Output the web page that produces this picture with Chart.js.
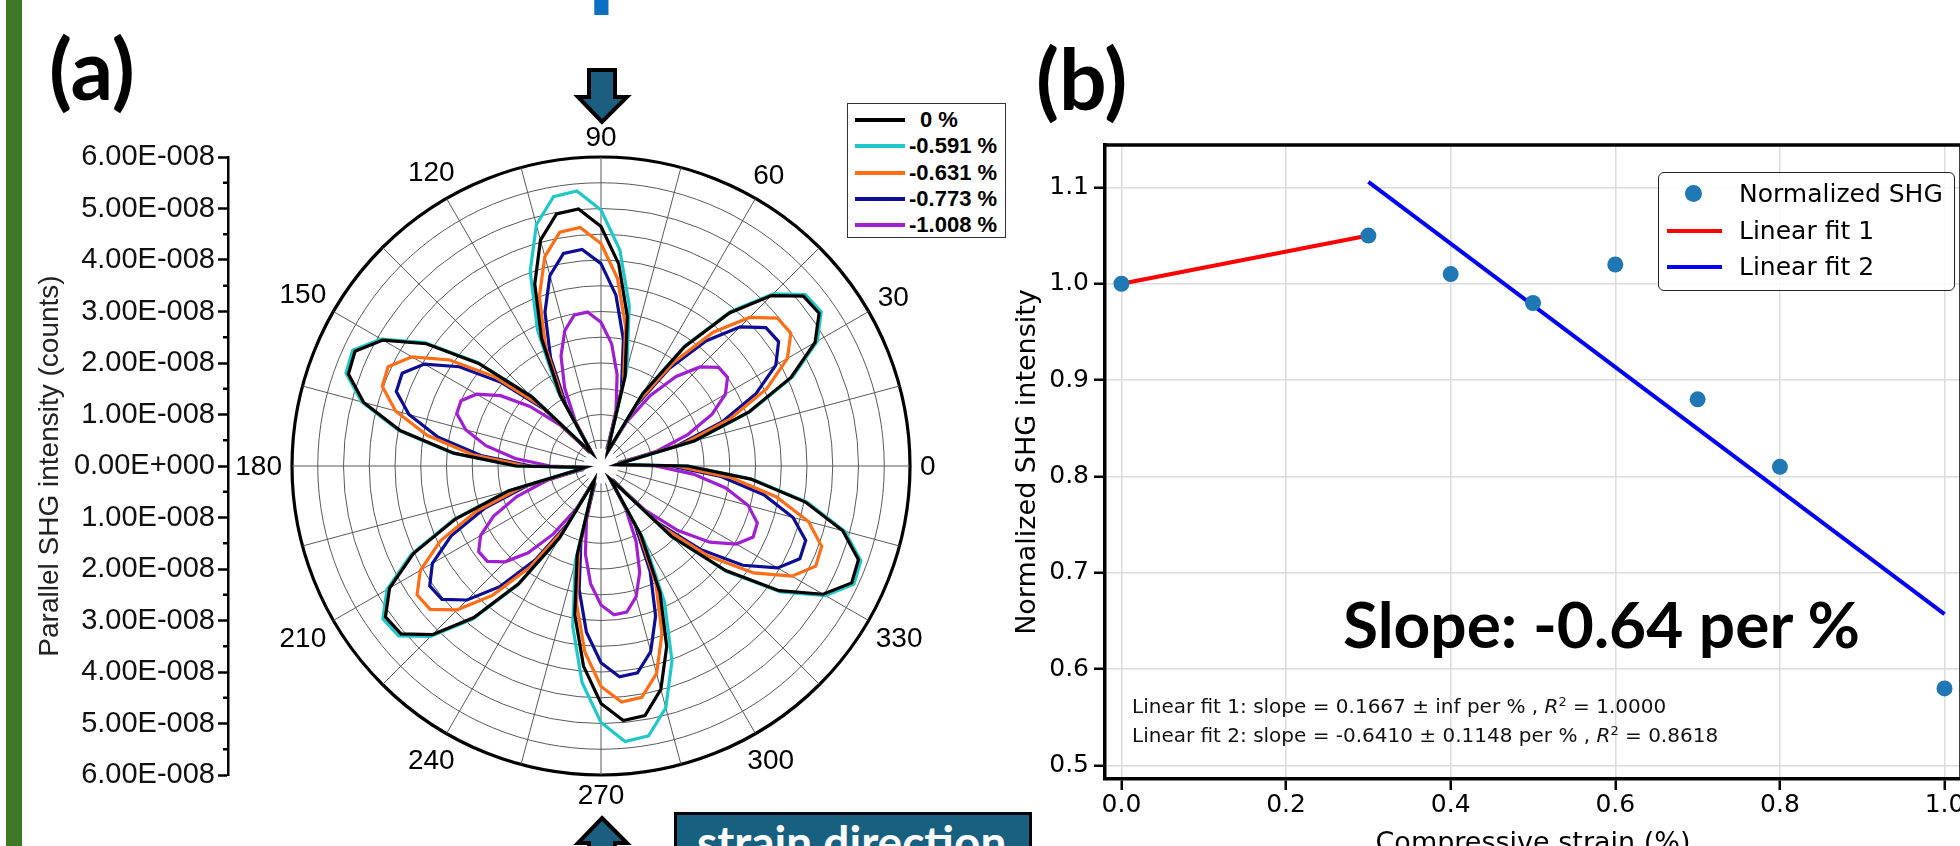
<!DOCTYPE html>
<html>
<head>
<meta charset="utf-8">
<title>SHG polar response and strain dependence</title>
<script src="https://cdn.jsdelivr.net/npm/chart.js@4.4.1/dist/chart.umd.min.js"></script>
<style>
  html, body { margin: 0; padding: 0; width: 1960px; height: 846px; overflow: hidden; background: #fff; }
  .abs { position: absolute; }
  #greenBar { left: 6px; top: 0; width: 16px; height: 846px; background: #3c7a26; z-index: 5; }
  #pageTitle { left: 461px; top: -106px; font-family: Lato, sans-serif; font-weight: 700; font-size: 115px; line-height: 1; color: #0a70c2; white-space: nowrap; }
  .panelTag { font-family: Lato, "Open Sans", sans-serif; font-weight: 700; font-size: 84px; line-height: 1; color: #000; }
  #axisWrap { left: 0; top: 120px; width: 240px; height: 700px; }
  #polarWrap { left: 211px; top: 76px; width: 780px; height: 780px; }
  #shgWrap { left: 1009px; top: 120px; width: 966px; height: 742px; }
  #legendA { left: 847px; top: 103px; width: 159px; height: 135px; border: 1.5px solid #333; background: #fff; box-sizing: border-box; }
  #legendA .row { position: absolute; left: 0; height: 26px; width: 100%; }
  #legendA .swatch { position: absolute; left: 7px; top: 11px; width: 50px; height: 4px; }
  #legendA .txt { position: absolute; left: 61px; top: 0; font: 700 22px "Liberation Sans", Arial, sans-serif; line-height: 26px; color: #000; white-space: nowrap; }
  #legendB { left: 1658px; top: 172px; width: 297px; height: 119px; border: 1.5px solid #222; border-radius: 6px; background: rgba(255,255,255,0.85); box-sizing: border-box; }
  #legendB .row { position: absolute; left: 0; width: 100%; height: 36px; }
  #legendB .txt { position: absolute; left: 80px; top: 0; font: 25px "DejaVu Sans", sans-serif; line-height: 36px; color: #000; white-space: nowrap; }
  .fitNote { font: 20px "DejaVu Sans", sans-serif; color: #111; white-space: nowrap; line-height: 1; }
  .fitNote sup { font-size: 13px; vertical-align: 7px; line-height: 0; }
  #slopeNote { left: 1343px; top: 592px; font-family: Lato, sans-serif; font-weight: 700; font-size: 64px; line-height: 1; color: #000; white-space: nowrap; }
  #strainBox { left: 674px; top: 812px; width: 358px; height: 70px; background: #17607f; border: 3px solid #000; box-sizing: border-box;
               color: #fff; font-family: Lato, sans-serif; font-weight: 700; font-size: 46px; line-height: 1; padding: 4px 0 0 20px; white-space: nowrap; }
</style>
</head>
<body>
<div id="greenBar" class="abs"></div>
<div id="pageTitle" class="abs">Experimental Results</div>
<div class="abs panelTag" style="left:49px; top:26px;">(a)</div>
<div class="abs panelTag" style="left:1036px; top:36px;">(b)</div>

<div id="axisWrap" class="abs"><canvas id="axisCanvas"></canvas></div>
<div id="polarWrap" class="abs"><canvas id="polarCanvas"></canvas></div>
<div id="legendA" class="abs"></div>

<svg class="abs" style="left:570px; top:62px;" width="66" height="66" viewBox="0 0 66 66">
  <polygon points="19,8 45,8 45,35 57,35 32,60 8,35 19,35" fill="#1b5e7f" stroke="#000" stroke-width="4" stroke-linejoin="miter"/>
</svg>
<svg class="abs" style="left:570px; top:810px;" width="66" height="66" viewBox="0 0 66 66">
  <polygon points="32,8 57,33 45,33 45,64 19,64 19,33 8,33" fill="#1b5e7f" stroke="#000" stroke-width="4" stroke-linejoin="miter"/>
</svg>
<div id="strainBox" class="abs">strain direction</div>

<div id="shgWrap" class="abs"><canvas id="shgCanvas"></canvas></div>
<div id="legendB" class="abs"></div>
<div id="slopeNote" class="abs">Slope: -0.64 per %</div>
<div id="fitNote1" class="abs fitNote" style="left:1132px; top:696px;"></div>
<div id="fitNote2" class="abs fitNote" style="left:1132px; top:725px;"></div>

<script>
// ---------- (a) polar SHG pattern, intensity in units of 1e-8 counts ----------
// polarizer angle (deg) for each sample, listed clockwise starting from 90
const angleDeg = [90,85,80,75,70,65,60,55,50,45,40,35,30,25,20,15,10,5,0,
  355,350,345,340,335,330,325,320,315,310,305,300,295,290,285,280,275,270,
  265,260,255,250,245,240,235,230,225,220,215,210,205,200,195,190,185,180,
  175,170,165,160,155,150,145,140,135,130,125,120,115,110,105,100,95];

const strainLabels = ['0 %', '-0.591 %', '-0.631 %', '-0.773 %', '-1.008 %'];
const strainColors = ['#000000', '#1fc8c8', '#ff6d14', '#0c0c94', '#a11fd2'];

const shg0 = [4.65,3.94,2.95,1.81,0.48,
  0.32,1.62,2.82,3.88,4.68,5.13,5.17,4.80,4.07,3.05,1.87,0.48,
  0.32,1.68,2.92,4.03,4.86,5.32,5.37,4.98,4.22,3.16,1.93,0.48,
  0.32,1.56,2.71,3.73,4.49,4.92,4.96,4.61,3.90,2.93,1.79,0.48,
  0.32,1.61,2.79,3.84,4.63,5.07,5.11,4.74,4.02,3.01,1.85,0.48,
  0.32,1.65,2.87,3.96,4.77,5.22,5.27,4.89,4.14,3.10,1.90,0.48,
  0.32,1.58,2.73,3.76,4.54,4.97,5.01];
const shg0591 = [4.97,4.21,3.16,1.93,0.49,
  0.33,1.64,2.85,3.92,4.73,5.18,5.22,4.85,4.11,3.08,1.88,0.49,
  0.33,1.70,2.95,4.07,4.90,5.37,5.42,5.03,4.26,3.19,1.95,0.49,
  0.33,1.68,2.92,4.03,4.86,5.32,5.37,4.98,4.22,3.16,1.93,0.49,
  0.33,1.62,2.82,3.88,4.68,5.13,5.17,4.80,4.07,3.05,1.87,0.49,
  0.33,1.66,2.90,3.99,4.81,5.27,5.32,4.93,4.18,3.13,1.92,0.49,
  0.33,1.68,2.92,4.02,4.85,5.31,5.36];
const shg0631 = [4.32,3.66,2.75,1.69,0.45,
  0.31,1.43,2.46,3.39,4.08,4.47,4.50,4.18,3.55,2.66,1.64,0.45,
  0.31,1.46,2.52,3.46,4.17,4.56,4.60,4.28,3.62,2.72,1.67,0.45,
  0.31,1.46,2.52,3.46,4.17,4.56,4.60,4.28,3.62,2.72,1.67,0.45,
  0.31,1.39,2.39,3.28,3.95,4.33,4.36,4.05,3.44,2.58,1.59,0.45,
  0.31,1.45,2.50,3.43,4.13,4.52,4.56,4.24,3.59,2.70,1.66,0.45,
  0.31,1.47,2.54,3.50,4.21,4.61,4.65];
const shg0773 = [3.93,3.33,2.50,1.54,0.43,
  0.30,1.34,2.31,3.17,3.82,4.18,4.21,3.92,3.32,2.50,1.54,0.43,
  0.30,1.36,2.34,3.21,3.86,4.23,4.26,3.96,3.36,2.52,1.56,0.43,
  0.30,1.32,2.26,3.10,3.73,4.08,4.11,3.82,3.24,2.44,1.51,0.43,
  0.30,1.30,2.23,3.06,3.68,4.03,4.06,3.78,3.21,2.41,1.49,0.43,
  0.30,1.36,2.34,3.21,3.86,4.23,4.26,3.96,3.36,2.52,1.56,0.43,
  0.30,1.35,2.32,3.18,3.83,4.19,4.22];
const shg1008 = [2.79,2.38,1.80,1.13,0.40,
  0.30,0.99,1.67,2.27,2.72,2.98,3.00,2.79,2.38,1.80,1.13,0.40,
  0.30,1.06,1.80,2.46,2.96,3.23,3.26,3.03,2.58,1.95,1.21,0.40,
  0.30,0.96,1.61,2.20,2.63,2.88,2.90,2.70,2.30,1.74,1.09,0.40,
  0.30,0.96,1.61,2.20,2.63,2.88,2.90,2.70,2.30,1.74,1.09,0.40,
  0.30,0.99,1.67,2.27,2.72,2.98,3.00,2.79,2.38,1.80,1.13,0.40,
  0.30,0.99,1.67,2.27,2.72,2.98,3.00];
const strainSeries = [shg0, shg0591, shg0631, shg0773, shg1008];

// radius axis: +/- 6e-8 counts, major step 1e-8, minor step 0.5e-8
const radiusMax = 6;
const radiusStep = 0.5;
const centerHole = 0.34;
const intensityExponent = '-008';

// ---------- (b) normalized SHG vs compressive strain ----------
const strainPct = [0.0, 0.3, 0.4, 0.5, 0.6, 0.7, 0.8, 1.0];
const shgNorm   = [1.00, 1.05, 1.01, 0.98, 1.02, 0.88, 0.81, 0.58];
const fitNames = ['Linear fit 1', 'Linear fit 2'];
const fitColors = ['#ff0000', '#0000ff'];
const fitRangeX = [[0.0, 0.3], [0.3, 1.0]];
const fitIntercept = [1.0000, 1.2981];
const fitSlope = [0.1667, -0.6410];
const fitSlopeErr = ['inf', '0.1148'];
const fitR2 = ['1.0000', '0.8618'];
const xTickStep = 0.2;
const yTickStep = 0.1;

Chart.defaults.devicePixelRatio = 1;

// ---------- radius axis drawn to the left of the polar plot ----------
const minorTickPlugin = {
  id: 'minorTicks',
  afterDraw(chart) {
    const s = chart.scales.y;
    const ctx = chart.ctx;
    ctx.save();
    ctx.strokeStyle = '#000';
    ctx.lineWidth = 2.5;
    s.ticks.forEach(t => {
      if (Number.isInteger(t.value)) return;
      const y = s.getPixelForValue(t.value);
      ctx.beginPath();
      ctx.moveTo(s.right - 5, y);
      ctx.lineTo(s.right, y);
      ctx.stroke();
    });
    ctx.restore();
  }
};

new Chart(document.getElementById('axisCanvas'), {
  type: 'line',
  data: { labels: [], datasets: [] },
  options: {
    responsive: true, maintainAspectRatio: false, animation: false,
    layout: { padding: { top: 37, bottom: 45, left: 0, right: 2 } },
    plugins: { legend: { display: false }, tooltip: { enabled: false } },
    scales: {
      x: { display: false },
      y: {
        min: -radiusMax, max: radiusMax,
        afterFit: s => { s.width = 228; },
        ticks: {
          stepSize: radiusStep, autoSkip: false, padding: 3, color: '#111',
          font: { family: '"Liberation Sans", Arial, sans-serif', size: 29 },
          callback: v => {
            if (!Number.isInteger(v)) return '';
            if (v === 0) return '0.00E+000';
            return Math.abs(v).toFixed(2) + 'E' + intensityExponent;
          }
        },
        grid: {
          drawOnChartArea: false, tickLength: 10, tickWidth: 2.5,
          tickColor: c => Number.isInteger(c.tick.value) ? '#000' : 'rgba(0,0,0,0)'
        },
        border: { color: '#000', width: 2.5 },
        title: {
          display: true, text: 'Parallel SHG intensity (counts)', color: '#222',
          font: { family: '"Liberation Sans", Arial, sans-serif', size: 28 },
          padding: { top: 33, bottom: 0 }
        }
      }
    }
  },
  plugins: [minorTickPlugin]
});

// ---------- polar plot ----------
const angleLabelPlugin = {
  id: 'angleLabels',
  beforeDatasetsDraw(chart) {
    // keep the very centre of the grid clear
    const scale = chart.scales.r;
    const ctx = chart.ctx;
    ctx.save();
    ctx.fillStyle = '#fff';
    ctx.beginPath();
    ctx.arc(scale.xCenter, scale.yCenter, scale.getDistanceFromCenterForValue(centerHole), 0, Math.PI * 2);
    ctx.fill();
    ctx.restore();
  },
  afterDraw(chart) {
    const scale = chart.scales.r;
    const ctx = chart.ctx;
    ctx.save();
    ctx.font = '28px "Liberation Sans", Arial, sans-serif';
    ctx.fillStyle = '#000';
    ctx.textAlign = 'center';
    ctx.textBaseline = 'middle';
    chart.data.labels.forEach((deg, i) => {
      if (deg % 30 !== 0) return;
      const text = String(deg);
      const w = ctx.measureText(text).width;
      const h = 20;
      const a = deg * Math.PI / 180;
      const d = scale.drawingArea + 10 + Math.abs(Math.cos(a)) * w / 2 + Math.abs(Math.sin(a)) * h / 2;
      const p = scale.getPointPosition(i, d);
      ctx.fillText(text, p.x, p.y + 1);
    });
    ctx.restore();
  }
};

const polarChart = new Chart(document.getElementById('polarCanvas'), {
  type: 'radar',
  data: {
    labels: angleDeg,
    datasets: strainSeries.map((vals, k) => ({
      label: strainLabels[k],
      data: vals,
      borderColor: strainColors[k],
      backgroundColor: 'rgba(0,0,0,0)',
      borderWidth: 3.2,
      fill: false,
      pointRadius: 0,
      pointHoverRadius: 0,
      tension: 0
    }))
  },
  options: {
    responsive: true, maintainAspectRatio: false, animation: false,
    layout: { padding: 81 },
    plugins: { legend: { display: false }, tooltip: { enabled: false } },
    scales: {
      r: {
        min: 0, max: radiusMax, startAngle: 0,
        ticks: { display: false, stepSize: radiusStep },
        pointLabels: { display: false },
        grid: {
          circular: true,
          color: c => c.tick.value === radiusMax ? '#000' : '#595959',
          lineWidth: c => c.tick.value === radiusMax ? 3.2 : 1
        },
        angleLines: {
          color: '#595959',
          lineWidth: c => (c.index % 3 === 0 ? 1 : 0)
        }
      }
    }
  },
  plugins: [angleLabelPlugin]
});

// legend for the polar plot, built from its datasets
(function () {
  const box = document.getElementById('legendA');
  polarChart.data.datasets.forEach((ds, i) => {
    const row = document.createElement('div');
    row.className = 'row';
    row.style.top = (3 + i * 26.3) + 'px';
    const sw = document.createElement('div');
    sw.className = 'swatch';
    sw.style.background = ds.borderColor;
    const tx = document.createElement('div');
    tx.className = 'txt';
    tx.textContent = (i === 0 ? '\u2002' : '') + ds.label;
    row.appendChild(sw); row.appendChild(tx);
    box.appendChild(row);
  });
})();

// ---------- (b) scatter with linear fits ----------
const spinePlugin = {
  id: 'spines',
  afterDraw(chart) {
    const { ctx, chartArea: a } = chart;
    ctx.save();
    ctx.strokeStyle = '#000';
    ctx.lineWidth = 3.5;
    ctx.beginPath();
    ctx.moveTo(a.left, a.top);
    ctx.lineTo(a.right, a.top);
    ctx.lineTo(a.right, a.bottom);
    ctx.stroke();
    ctx.restore();
  }
};

const fitDatasets = fitNames.map((name, k) => ({
  label: name,
  data: fitRangeX[k].map(x => ({ x, y: fitIntercept[k] + fitSlope[k] * x })),
  showLine: true,
  borderColor: fitColors[k],
  backgroundColor: fitColors[k],
  borderWidth: 4,
  pointRadius: 0,
  pointHoverRadius: 0
}));

const tickFont = { family: '"DejaVu Sans", sans-serif', size: 25 };
const titleFont = { family: '"DejaVu Sans", sans-serif', size: 27 };

const shgChart = new Chart(document.getElementById('shgCanvas'), {
  type: 'scatter',
  data: {
    datasets: [{
      label: 'Normalized SHG',
      data: strainPct.map((x, i) => ({ x, y: shgNorm[i] })),
      backgroundColor: '#1f77b4',
      borderColor: '#1f77b4',
      borderWidth: 0,
      pointRadius: 8,
      pointHoverRadius: 8
    }].concat(fitDatasets)
  },
  options: {
    responsive: true, maintainAspectRatio: false, animation: false,
    layout: { padding: { top: 25, right: 14, left: 0, bottom: 0 } },
    plugins: { legend: { display: false }, tooltip: { enabled: false } },
    scales: {
      x: {
        type: 'linear', min: -0.02, max: 1.02,
        afterFit: s => { s.height = 83; },
        ticks: { stepSize: xTickStep, includeBounds: false, color: '#000', font: tickFont, padding: 0,
                 callback: v => v.toFixed(1) },
        grid: { color: '#dcdcdc', lineWidth: 1.5, tickColor: '#000', tickWidth: 2.5, tickLength: 11 },
        border: { color: '#000', width: 3.5 },
        title: { display: true, text: 'Compressive strain (%)', color: '#000', font: titleFont, padding: { top: 4, bottom: 2 } }
      },
      y: {
        type: 'linear', min: 0.486, max: 1.144,
        afterFit: s => { s.width = 96; },
        ticks: { stepSize: yTickStep, includeBounds: false, color: '#000', font: tickFont, padding: 5,
                 callback: v => v.toFixed(1) },
        grid: { color: '#dcdcdc', lineWidth: 1.5, tickColor: '#000', tickWidth: 2.5, tickLength: 11 },
        border: { color: '#000', width: 3.5 },
        title: { display: true, text: 'Normalized SHG intensity', color: '#000', font: titleFont, padding: { top: 3, bottom: 4 } }
      }
    }
  },
  plugins: [spinePlugin]
});

// legend for (b), built from its datasets
(function () {
  const box = document.getElementById('legendB');
  shgChart.data.datasets.forEach((ds, i) => {
    const row = document.createElement('div');
    row.className = 'row';
    row.style.top = (3 + i * 36.5) + 'px';
    const mark = document.createElement('div');
    mark.style.position = 'absolute';
    if (i === 0) {
      mark.style.left = '26px'; mark.style.top = '9px';
      mark.style.width = '17px'; mark.style.height = '17px';
      mark.style.borderRadius = '50%';
    } else {
      mark.style.left = '8px'; mark.style.top = '16px';
      mark.style.width = '55px'; mark.style.height = '4px';
    }
    mark.style.background = ds.backgroundColor;
    const tx = document.createElement('div');
    tx.className = 'txt';
    tx.textContent = ds.label;
    row.appendChild(mark); row.appendChild(tx);
    box.appendChild(row);
  });
})();

// fit summary lines
(function () {
  fitNames.forEach((name, k) => {
    const el = document.getElementById('fitNote' + (k + 1));
    el.innerHTML = name + ': slope = ' + fitSlope[k].toFixed(4) + ' \u00b1 ' + fitSlopeErr[k] +
      ' per % , <i>R</i><sup>2</sup> = ' + fitR2[k];
  });
})();
</script>
</body>
</html>
